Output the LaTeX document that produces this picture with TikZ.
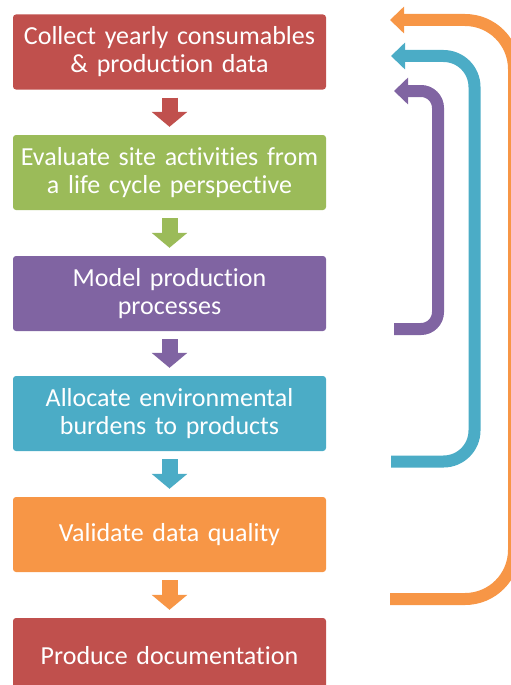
\documentclass[tikz,border=0pt]{standalone}
\usepackage{fontspec}
\setmainfont{Carlito}[Ligatures={NoCommon,NoContextual}]
\usetikzlibrary{arrows.meta}
\definecolor{cred}{HTML}{C0504D}
\definecolor{cgreen}{HTML}{9BBB59}
\definecolor{cpurple}{HTML}{8064A2}
\definecolor{cteal}{HTML}{4BACC6}
\definecolor{corange}{HTML}{F79646}
\begin{document}
\begin{tikzpicture}[x=1pt,y=-1pt,
  box/.style={fill=#1, rounded corners=3pt, minimum width=313pt, minimum height=75pt,
    text width=310pt, align=center, text=white, inner sep=0pt,
    font=\fontsize{26}{28}\selectfont},
  downarr/.style={draw=#1, line width=16pt, -{Triangle[width=35pt,length=15pt]}},
  backarr/.style={draw=#1, line width=12pt, -{Triangle[width=26pt,length=14pt]}}]
\useasboundingbox (0,0) rectangle (511,685);
\clip (0,0) rectangle (511,685);
\node[box=cred]    (b1) at (169.5,52)    {Collect yearly consumables\\\& production data};
\node[box=cgreen]  (b2) at (169.5,172.5) {Evaluate site activities from\\a life cycle perspective};
\node[box=cpurple] (b3) at (169.5,293.5) {Model production\\processes};
\node[box=cteal]   (b4) at (169.5,413.5) {Allocate environmental\\burdens to products};
\node[box=corange] (b5) at (169.5,534.5) {Validate data quality};
\node[box=cred]    (b6) at (169.5,655.5) {Produce documentation};
\draw[downarr=cred]    ([yshift=-8pt]b1.south) -- ([yshift=8pt]b2.north);
\draw[downarr=cgreen]  ([yshift=-8pt]b2.south) -- ([yshift=8pt]b3.north);
\draw[downarr=cpurple] ([yshift=-8pt]b3.south) -- ([yshift=8pt]b4.north);
\draw[downarr=cteal]   ([yshift=-8pt]b4.south) -- ([yshift=8pt]b5.north);
\draw[downarr=corange] ([yshift=-8pt]b5.south) -- ([yshift=8pt]b6.north);
\coordinate (pu1) at (394,329);
\coordinate (pu2) at (394,91);
\coordinate (te1) at (391,461.5);
\coordinate (te2) at (391,56);
\coordinate (or1) at (390,599);
\coordinate (or2) at (390,20);
\draw[backarr=cpurple, rounded corners=17pt] (pu1) -- ++(44,0) |- (pu2);
\draw[backarr=cteal, rounded corners=31pt] (te1) -- ++(83.5,0) |- (te2);
\draw[backarr=corange, rounded corners=49pt] (or1) -- ++(124,0) |- (or2);
\end{tikzpicture}
\end{document}
